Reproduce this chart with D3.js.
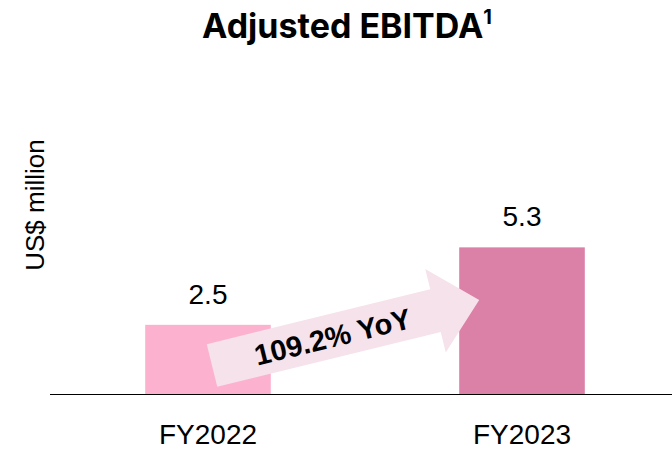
<!DOCTYPE html>
<html>
<head>
<meta charset="utf-8">
<script src="https://cdn.jsdelivr.net/npm/d3@7"></script>
<style>
  body { margin: 0; background: #fff; }
  svg { display: block; }
</style>
</head>
<body>
<svg id="chart" width="672" height="449"></svg>
<script>
// data
const years = ["FY2022", "FY2023"];
const ebitda = [2.5, 5.3];
const barColors = ["#fcb1cf", "#db80a6"];
const growthLabel = "109.2% YoY";

const svg = d3.select("#chart");
const baseY = 394;

const x = d3.scaleBand().domain(years).range([51, 679]).paddingInner(0.6).paddingOuter(0.3);
const y = d3.scaleLinear().domain([0, 6]).range([baseY, 228]);

// title
const title = svg.append("text")
    .attr("x", 347).attr("y", 38)
    .attr("text-anchor", "middle")
    .attr("font-family", "Inter, 'Liberation Sans', sans-serif")
    .attr("font-weight", 700)
    .attr("font-size", 34)
    .attr("fill", "#000")
    .text("Adjusted EBITDA");
title.append("tspan").attr("dy", -14).attr("font-size", 20).text("1");

// y label
svg.append("text")
    .attr("transform", "translate(44,205) rotate(-90)")
    .attr("text-anchor", "middle")
    .attr("font-family", "'Liberation Sans', Arial, sans-serif")
    .attr("font-size", 26)
    .attr("fill", "#000")
    .text("US$ million");

// bars
svg.selectAll(".bar").data(years).enter().append("rect")
    .attr("class", "bar")
    .attr("x", d => x(d))
    .attr("y", (d, i) => y(ebitda[i]))
    .attr("width", x.bandwidth())
    .attr("height", (d, i) => baseY - y(ebitda[i]))
    .attr("fill", (d, i) => barColors[i]);

// value labels
svg.selectAll(".val").data(years).enter().append("text")
    .attr("class", "val")
    .attr("x", d => x(d) + x.bandwidth() / 2)
    .attr("y", (d, i) => y(ebitda[i]) - 21)
    .attr("text-anchor", "middle")
    .attr("font-family", "'Liberation Sans', Arial, sans-serif")
    .attr("font-size", 28)
    .attr("fill", "#000")
    .text((d, i) => ebitda[i].toFixed(1));

// axis
const xAxis = svg.append("g")
    .attr("transform", `translate(0,${baseY})`)
    .call(d3.axisBottom(x).tickSize(0).tickPadding(30));
xAxis.select(".domain").attr("d", "M50,0.5H672").attr("stroke", "#000").attr("stroke-width", 1.2);
xAxis.selectAll("text")
    .attr("font-family", "'Liberation Sans', Arial, sans-serif")
    .attr("font-size", 28)
    .attr("fill", "#000");

// growth arrow
const x0 = x(years[0]) + x.bandwidth() / 2 + 4, y0 = y(1.03);
const x1 = x(years[1]) + 20, y1 = y(3.4);
const len = Math.hypot(x1 - x0, y1 - y0);
const ang = Math.atan2(y1 - y0, x1 - x0) * 180 / Math.PI;
const shaftW = 44, headW = 86, headL = 45;
const arrow = svg.append("g").attr("transform", `translate(${x0},${y0}) rotate(${ang})`);
arrow.append("path")
    .attr("d", `M0,${-shaftW/2}H${len-headL}V${-headW/2}L${len},0L${len-headL},${headW/2}V${shaftW/2}H0Z`)
    .attr("fill", "#f6e2ea");
arrow.append("text")
    .attr("x", (len - headL) / 2 + 9)
    .attr("y", 11)
    .attr("text-anchor", "middle")
    .attr("font-family", "'Liberation Sans', Arial, sans-serif")
    .attr("font-weight", 700)
    .attr("font-size", 29)
    .attr("fill", "#000")
    .text(growthLabel);
</script>
</body>
</html>
